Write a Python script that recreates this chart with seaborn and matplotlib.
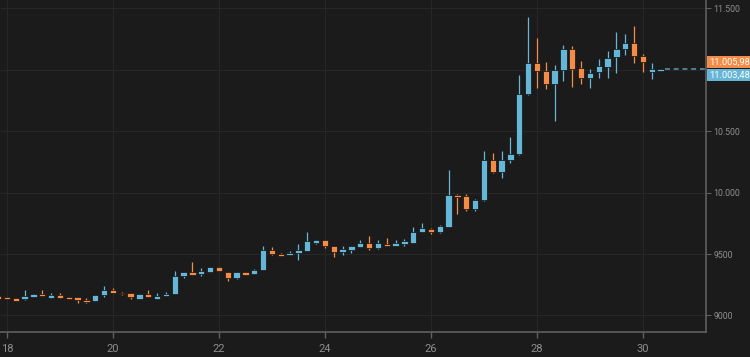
import numpy as np
import pandas as pd
import matplotlib
matplotlib.use("Agg")
import matplotlib.pyplot as plt
import matplotlib.dates as mdates
from matplotlib.ticker import FixedFormatter, FixedLocator
import seaborn as sns

# ---------------- data (4-hour candles, July 2020) ----------------
start_time = "2020-07-17 20:00"
candle_interval = "4h"

opens = [9159, 9151, 9141, 9130, 9154, 9173, 9146, 9165, 9151, 9151,
         9124, 9116, 9165, 9211, 9185, 9179, 9138, 9173, 9138, 9157,
         9173, 9320, 9350, 9341, 9354, 9395, 9354, 9301, 9350, 9341,
         9374, 9535, 9504, 9490, 9511, 9527, 9593, 9612, 9566, 9520,
         9531, 9558, 9593, 9545, 9585, 9566, 9580, 9593, 9681, 9707,
         9683, 9722, 9984, 9970, 9870, 9941, 10268, 10165, 10263, 10311,
         10799, 11057, 10989, 10886, 10994, 11171, 11013, 10932, 10981, 11021,
         11102, 11171, 11216, 11111, 10981, 10990]
highs = [9161, 9153, 9143, 9206, 9173, 9206, 9179, 9181, 9153, 9153,
         9143, 9167, 9238, 9224, 9187, 9181, 9175, 9206, 9184, 9192,
         9363, 9352, 9436, 9390, 9397, 9397, 9356, 9356, 9352, 9376,
         9563, 9555, 9506, 9527, 9580, 9680, 9614, 9614, 9568, 9566,
         9565, 9616, 9645, 9618, 9634, 9612, 9626, 9720, 9750, 9709,
         9734, 10181, 9992, 9986, 9945, 10336, 10324, 10336, 10452, 10959,
         11428, 11260, 11062, 11035, 11198, 11189, 11067, 11008, 11089, 11149,
         11306, 11293, 11354, 11130, 11057, 11006]
lows = [9136, 9130, 9117, 9128, 9152, 9155, 9144, 9143, 9131, 9100,
        9104, 9114, 9151, 9182, 9169, 9130, 9136, 9149, 9136, 9155,
        9171, 9301, 9331, 9320, 9352, 9358, 9279, 9299, 9331, 9339,
        9372, 9490, 9483, 9488, 9455, 9525, 9580, 9545, 9472, 9490,
        9507, 9556, 9535, 9543, 9565, 9564, 9566, 9591, 9679, 9659,
        9667, 9720, 9824, 9850, 9848, 9932, 10160, 10122, 10241, 10305,
        10795, 10854, 10846, 10582, 10907, 10859, 10880, 10854, 10932, 10932,
        10976, 11122, 11054, 10981, 10927, 10988]
closes = [9138, 9133, 9119, 9157, 9171, 9157, 9165, 9146, 9133, 9124,
          9106, 9165, 9211, 9184, 9171, 9151, 9173, 9151, 9157, 9173,
          9320, 9350, 9333, 9360, 9395, 9360, 9301, 9354, 9333, 9374,
          9531, 9504, 9485, 9511, 9531, 9604, 9612, 9566, 9517, 9543,
          9563, 9593, 9547, 9588, 9567, 9588, 9606, 9681, 9710, 9683,
          9726, 9984, 9964, 9864, 9943, 10268, 10165, 10268, 10317, 10805,
          11057, 10986, 10886, 10994, 11171, 11008, 10932, 10976, 11027, 11098,
          11171, 11216, 11108, 11062, 11002, 11003.48]

y_ticks = [9000, 9500, 10000, 10500, 11000, 11500]
# the 11.000 label is hidden behind the last-price boxes in the reference
y_tick_labels = ["9000", "9500", "10.000", "10.500", "", "11.500"]
x_tick_days = [18, 20, 22, 24, 26, 28, 30]
last_price_values = [11005.98, 11003.48]
last_price_texts = ["11.005,98", "11.003,48"]

# ---------------- style ----------------
BG = "#1b1b1b"
GRID = "#272727"
SPINE = "#5f5f5f"
TICKTXT = "#8e8e8e"
UP = "#66b6d7"
DOWN = "#f48c47"
DASH = "#4f8095"

sns.set_theme(style="dark", rc={
    "figure.facecolor": BG, "axes.facecolor": BG,
    "axes.edgecolor": SPINE, "grid.color": GRID,
})
plt.rcParams["font.family"] = ["Roboto", "DejaVu Sans"]

times = pd.date_range(start_time, periods=len(opens), freq=candle_interval)
df = pd.DataFrame({"time": times, "open": opens, "high": highs,
                   "low": lows, "close": closes})
df["x"] = mdates.date2num(df["time"])
df["up"] = df["close"] >= df["open"]
df["color"] = np.where(df["up"], UP, DOWN)

fig = plt.figure(figsize=(7.5, 3.57), dpi=100, facecolor=BG)
ax = fig.add_axes([0.0, 0.0709, 0.9413, 0.9291])
ax.set_facecolor(BG)

body_w = 0.12  # days
ax.vlines(df["x"], df["low"], df["high"], colors=df["color"], lw=0.9, zorder=2)
bottoms = np.minimum(df["open"], df["close"])
heights = np.abs(df["close"] - df["open"])
ax.bar(df["x"], heights, bottom=bottoms, width=body_w, color=df["color"],
       edgecolor="#101010", linewidth=0.5, zorder=3)

# last price dashed line
last_x = df["x"].iloc[-1]
x_left = mdates.date2num(pd.Timestamp("2020-07-17 20:50"))
x_right = mdates.date2num(pd.Timestamp("2020-07-31 04:35"))
ax.hlines(df["close"].iloc[-1], last_x + body_w / 2 + 0.02, x_right,
          colors=DASH, linestyles=(0, (2.5, 2)), lw=1.4, zorder=2)

ax.set_xlim(x_left, x_right)
ax.set_ylim(8868, 11567)

# axes
for s in ["top", "left"]:
    ax.spines[s].set_visible(False)
for s in ["bottom", "right"]:
    ax.spines[s].set_visible(True)
    ax.spines[s].set_color(SPINE)
    ax.spines[s].set_linewidth(1.2)

ax.yaxis.tick_right()
ax.yaxis.set_major_locator(FixedLocator(y_ticks))
ax.yaxis.set_major_formatter(FixedFormatter(y_tick_labels))
ax.xaxis.set_major_locator(mdates.DayLocator(bymonthday=x_tick_days))
ax.xaxis.set_major_formatter(mdates.DateFormatter("%d"))

ax.tick_params(axis="y", which="both", right=True, left=False, length=3.5,
               width=0.8, color=SPINE, pad=2, labelsize=6.3, labelcolor=TICKTXT)
ax.tick_params(axis="x", which="both", bottom=True, length=4, width=1,
               color=SPINE, pad=5, labelsize=8, labelcolor=TICKTXT)

ax.grid(True, color=GRID, lw=0.8)
ax.set_axisbelow(True)

# last price labels
offsets = [5.0, -4.0]
box_colors = [DOWN, UP]
for val, txt, off, bc in zip(last_price_values, last_price_texts, offsets, box_colors):
    ax.annotate(txt, xy=(1, val), xycoords=("axes fraction", "data"),
                xytext=(2.0, off), textcoords="offset points",
                ha="left", va="center", fontsize=6.7, color="#ffffff",
                bbox=dict(boxstyle="square,pad=0.14", fc=bc, ec="none"),
                annotation_clip=False, zorder=10)

fig.savefig("out.png", dpi=100, facecolor=BG)
